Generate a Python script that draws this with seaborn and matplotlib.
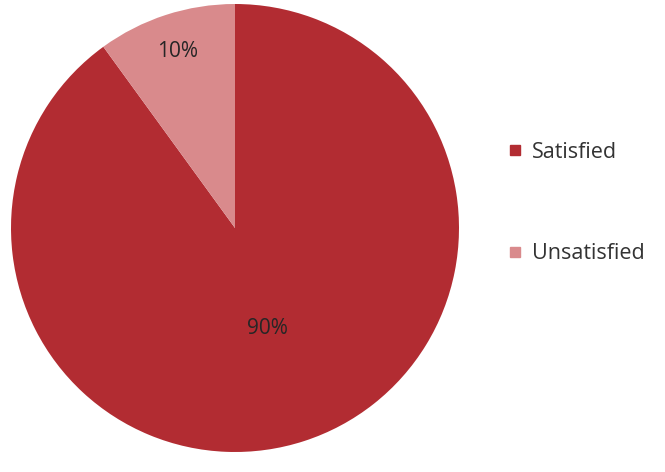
import numpy as np
import matplotlib
matplotlib.use("Agg")
import matplotlib.pyplot as plt
from matplotlib.lines import Line2D
import seaborn as sns

categories = ["Satisfied", "Unsatisfied"]
shares = [90, 10]
colors = ["#B22C32", "#D98A8C"]

sns.set_theme(style="white")
plt.rcParams["font.family"] = ["Open Sans", "DejaVu Sans"]

W, H = 665, 472
fig = plt.figure(figsize=(W / 100, H / 100), dpi=100)
fig.patch.set_facecolor("white")

# pie centred at (235, 228) px with a 224 px radius
cx, cy, r = 235, 228, 224
ax = fig.add_axes([(cx - r) / W, (H - cy - r) / H, 2 * r / W, 2 * r / H])

wedges, _ = ax.pie(shares, colors=colors, startangle=90, counterclock=False,
                   wedgeprops=dict(linewidth=0))
ax.set_xlim(-1, 1)
ax.set_ylim(-1, 1)
ax.set_aspect("equal")
ax.axis("off")

# percentage labels at the middle angle of each wedge
label_dist = [0.47, 0.83]
for w, val, d in zip(wedges, shares, label_dist):
    mid = np.deg2rad((w.theta1 + w.theta2) / 2)
    ax.text(d * np.cos(mid), d * np.sin(mid), f"{val}%", ha="center", va="center",
            fontsize=15, color="#262626")

fs = 15.5
handles = [Line2D([], [], marker="s", linestyle="none", markersize=7.2,
                  markerfacecolor=c, markeredgecolor=c) for c in colors]
fig.legend(handles, categories, loc="center left", bbox_to_anchor=(504 / W, 1 - 203 / H),
           frameon=False, fontsize=fs, labelspacing=3.75, handletextpad=0.28,
           handlelength=1.0, borderpad=0, borderaxespad=0, labelcolor="#333333")

fig.savefig("out.png", dpi=100, facecolor="white")
